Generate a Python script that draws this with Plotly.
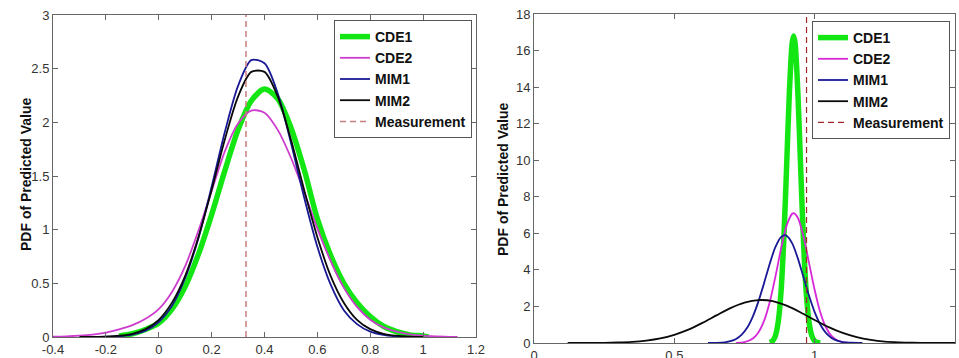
import plotly.graph_objects as go

# ---------------- Left panel data ----------------
L_cde1_x = [-0.15, -0.1, -0.05, 0.0, 0.05, 0.1, 0.15, 0.2, 0.25, 0.3, 0.35, 0.4, 0.45, 0.5, 0.55, 0.6, 0.65, 0.7, 0.75, 0.8, 0.85, 0.9, 0.95, 1.0, 1.02]
L_cde1_y = [0.01, 0.03, 0.07, 0.13, 0.26, 0.47, 0.77, 1.14, 1.55, 1.93, 2.20, 2.31, 2.22, 1.95, 1.56, 1.10, 0.76, 0.50, 0.32, 0.19, 0.10, 0.05, 0.02, 0.01, 0.0]

L_cde2_x = [-0.4, -0.35, -0.3, -0.25, -0.2, -0.15, -0.1, -0.05, 0.0, 0.05, 0.1, 0.15, 0.2, 0.25, 0.3, 0.35, 0.4, 0.45, 0.5, 0.55, 0.6, 0.65, 0.7, 0.75, 0.8, 0.85, 0.9, 0.95, 1.0, 1.05, 1.13]
L_cde2_y = [0.003, 0.006, 0.012, 0.022, 0.04, 0.07, 0.11, 0.17, 0.26, 0.42, 0.66, 0.99, 1.36, 1.73, 1.99, 2.11, 2.09, 1.93, 1.67, 1.35, 1.01, 0.71, 0.46, 0.28, 0.16, 0.09, 0.05, 0.025, 0.012, 0.006, 0.0]

L_mim1_x = [-0.25, -0.2, -0.15, -0.1, -0.05, 0.0, 0.05, 0.1, 0.15, 0.2, 0.25, 0.3, 0.35, 0.4, 0.45, 0.5, 0.55, 0.6, 0.65, 0.7, 0.75, 0.8, 0.85, 0.9, 0.95]
L_mim1_y = [0.001, 0.003, 0.008, 0.023, 0.06, 0.14, 0.29, 0.55, 0.92, 1.40, 1.91, 2.34, 2.58, 2.55, 2.27, 1.81, 1.30, 0.84, 0.49, 0.25, 0.12, 0.05, 0.02, 0.006, 0.0]

L_mim2_x = [-0.3, -0.25, -0.2, -0.15, -0.1, -0.05, 0.0, 0.05, 0.1, 0.15, 0.2, 0.25, 0.3, 0.35, 0.4, 0.45, 0.5, 0.55, 0.6, 0.65, 0.7, 0.75, 0.8, 0.85, 0.9, 0.95, 1.0]
L_mim2_y = [0.0, 0.001, 0.004, 0.012, 0.03, 0.073, 0.16, 0.32, 0.57, 0.93, 1.37, 1.84, 2.24, 2.47, 2.47, 2.24, 1.84, 1.37, 0.93, 0.57, 0.32, 0.16, 0.073, 0.03, 0.012, 0.004, 0.001]

L_measurement = 0.33

# ---------------- Right panel data ----------------
R_cde1_x = [0.84, 0.85, 0.86, 0.87, 0.88, 0.89, 0.90, 0.91, 0.92, 0.925, 0.93, 0.94, 0.95, 0.96, 0.97, 0.98, 0.99, 1.00, 1.01, 1.02]
R_cde1_y = [0.03, 0.11, 0.39, 1.14, 2.77, 5.65, 9.63, 13.75, 16.43, 16.8, 16.43, 13.75, 9.63, 5.65, 2.77, 1.14, 0.39, 0.11, 0.03, 0.005]

R_cde2_x = [0.72, 0.75, 0.78, 0.80, 0.82, 0.84, 0.86, 0.88, 0.90, 0.92, 0.925, 0.94, 0.96, 0.98, 1.00, 1.02, 1.04, 1.06, 1.08, 1.10, 1.12]
R_cde2_y = [0.01, 0.05, 0.25, 0.59, 1.22, 2.24, 3.62, 5.14, 6.42, 7.07, 7.1, 6.85, 5.84, 4.38, 2.90, 1.68, 0.86, 0.39, 0.15, 0.05, 0.02]

R_mim1_x = [0.62, 0.65, 0.68, 0.70, 0.72, 0.74, 0.76, 0.78, 0.80, 0.82, 0.84, 0.86, 0.88, 0.893, 0.90, 0.92, 0.94, 0.96, 0.98, 1.00, 1.02, 1.04, 1.06, 1.08, 1.10, 1.13, 1.17]
R_mim1_y = [0.002, 0.009, 0.04, 0.10, 0.22, 0.46, 0.85, 1.46, 2.29, 3.29, 4.34, 5.24, 5.79, 5.9, 5.87, 5.45, 4.63, 3.61, 2.58, 1.69, 1.01, 0.55, 0.28, 0.13, 0.05, 0.015, 0.002]

R_mim2_x = [0.12, 0.2, 0.25, 0.3, 0.35, 0.4, 0.45, 0.5, 0.55, 0.6, 0.65, 0.7, 0.75, 0.8, 0.85, 0.9, 0.95, 1.0, 1.05, 1.1, 1.15, 1.2, 1.25, 1.3, 1.35, 1.4, 1.5]
R_mim2_y = [0.0, 0.004, 0.01, 0.026, 0.06, 0.13, 0.25, 0.45, 0.73, 1.10, 1.51, 1.91, 2.21, 2.35, 2.29, 2.04, 1.67, 1.26, 0.87, 0.55, 0.32, 0.17, 0.08, 0.037, 0.015, 0.006, 0.001]

R_measurement = 0.971

# tick labels
L_xticks = [-0.4, -0.2, 0, 0.2, 0.4, 0.6, 0.8, 1, 1.2]
L_xtick_text = ["-0.4", "-0.2", "0", "0.2", "0.4", "0.6", "0.8", "1", "1.2"]
L_yticks = [0, 0.5, 1, 1.5, 2, 2.5, 3]
L_ytick_text = ["0", "0.5", "1", "1.5", "2", "2.5", "3"]
R_xticks = [0, 0.5, 1, 1.5]
R_xtick_text = ["0", "0.5", "1", "1.5"]
R_yticks = [0, 2, 4, 6, 8, 10, 12, 14, 16, 18]
R_ytick_text = [str(v) for v in R_yticks]
Y_TITLE = "PDF of Predicted Value"

L_xrange = [-0.4, 1.2]
L_yrange = [0, 3]
R_xrange = [0, 1.5]
R_yrange = [0, 18]

GREEN = "rgb(20,230,20)"
MAGENTA_L = "rgb(205,60,205)"
MAGENTA_R = "rgb(215,40,215)"
BLUE = "rgb(25,25,150)"
BLACK = "rgb(10,10,10)"
MEAS_L = "rgb(200,125,125)"
MEAS_R = "rgb(160,40,40)"

fig = go.Figure()

def add(x, y, name, color, width, xa, ya, legend, dash="solid", shape="spline"):
    line = dict(color=color, width=width, dash=dash)
    if shape == "spline":
        line.update(shape="spline", smoothing=0.8)
    fig.add_trace(go.Scatter(
        x=x, y=y, name="<b>" + name + "</b>", mode="lines", xaxis=xa, yaxis=ya, legend=legend,
        line=line, hoverinfo="skip"))

# left panel
add(L_cde1_x, L_cde1_y, "CDE1", GREEN, 5.5, "x", "y", "legend")
add(L_cde2_x, L_cde2_y, "CDE2", MAGENTA_L, 1.8, "x", "y", "legend")
add(L_mim1_x, L_mim1_y, "MIM1", BLUE, 1.8, "x", "y", "legend")
add(L_mim2_x, L_mim2_y, "MIM2", BLACK, 1.8, "x", "y", "legend")
add([L_measurement, L_measurement], L_yrange, "Measurement", MEAS_L, 1.5, "x", "y", "legend", dash="6px,4px", shape="linear")

# right panel
add(R_cde1_x, R_cde1_y, "CDE1", GREEN, 5.5, "x2", "y2", "legend2")
add(R_cde2_x, R_cde2_y, "CDE2", MAGENTA_R, 1.8, "x2", "y2", "legend2")
add(R_mim1_x, R_mim1_y, "MIM1", BLUE, 1.8, "x2", "y2", "legend2")
add(R_mim2_x, R_mim2_y, "MIM2", BLACK, 1.8, "x2", "y2", "legend2")
add([R_measurement, R_measurement], R_yrange, "Measurement", MEAS_R, 1.2, "x2", "y2", "legend2", dash="6px,4px", shape="linear")

W, H = 959, 358
FONT = "Liberation Sans, Arial, sans-serif"
tickfont = dict(family=FONT, size=13, color="#333")
axis_common = dict(showgrid=False, zeroline=False, showline=True, linecolor="#666", linewidth=1,
                   mirror="ticks", ticks="inside", ticklen=5, tickcolor="#666", tickfont=tickfont,
                   automargin=False)
title_font = dict(family=FONT, size=14, color="#111")
legend_font = dict(family=FONT, size=14, color="#111")

fig.update_layout(
    width=W, height=H, margin=dict(l=0, r=0, t=0, b=0),
    paper_bgcolor="white", plot_bgcolor="white", showlegend=True,
    xaxis=dict(domain=[53 / W, 476 / W], range=L_xrange, tickvals=L_xticks, ticktext=L_xtick_text, anchor="y", **axis_common),
    yaxis=dict(domain=[(H - 337) / H, (H - 15) / H], range=L_yrange, tickvals=L_yticks, ticktext=L_ytick_text, anchor="x", **axis_common),
    xaxis2=dict(domain=[534 / W, 955 / W], range=R_xrange, tickvals=R_xticks, ticktext=R_xtick_text, anchor="y2", **axis_common),
    yaxis2=dict(domain=[(H - 343) / H, (H - 14) / H], range=R_yrange, tickvals=R_yticks, ticktext=R_ytick_text, anchor="x2", **axis_common),
    legend=dict(x=472 / W, y=(H - 20) / H, xanchor="right", yanchor="top", bgcolor="white",
                bordercolor="#555", borderwidth=1, tracegroupgap=0, font=legend_font),
    legend2=dict(x=950 / W, y=(H - 21) / H, xanchor="right", yanchor="top", bgcolor="white",
                 bordercolor="#555", borderwidth=1, tracegroupgap=0, font=legend_font),
    annotations=[
        dict(text="<b>" + Y_TITLE + "</b>", textangle=-90, xref="paper", yref="paper",
             x=26 / W, y=(H - 175) / H, xanchor="center", yanchor="middle", showarrow=False, font=title_font),
        dict(text="<b>" + Y_TITLE + "</b>", textangle=-90, xref="paper", yref="paper",
             x=503 / W, y=(H - 180) / H, xanchor="center", yanchor="middle", showarrow=False, font=title_font),
    ],
)

fig.write_html("out.html", config={"displayModeBar": False},
               post_script="document.body.style.margin='0';document.body.style.overflow='hidden';")
